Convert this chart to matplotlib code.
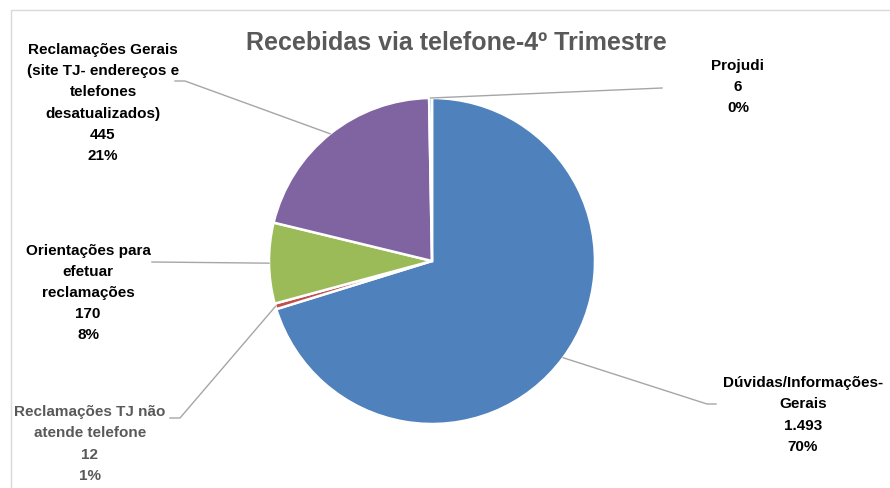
import numpy as np
import matplotlib
matplotlib.use("Agg")
import matplotlib.pyplot as plt
from matplotlib.patches import Rectangle
from matplotlib import font_manager

# ---------------- data ----------------
categories = ['Dúvidas/Informações-\nGerais',
              'Reclamações TJ não\natende telefone',
              'Orientações para\nefetuar\nreclamações',
              'Reclamações Gerais\n(site TJ- endereços e\ntelefones\ndesatualizados)',
              'Projudi']
values = [1493, 12, 170, 445, 6]
value_labels = ['1.493', '12', '170', '445', '6']
colors = ['#4F81BD', '#C0504D', '#9BBB59', '#8064A2', '#4BACC6']
title = 'Recebidas via telefone-4º Trimestre'

# ---------------- layout ----------------
W, H = 890, 489
names = {f.name for f in font_manager.fontManager.ttflist}
fam = [f for f in ['Liberation Sans Narrow', 'Liberation Sans', 'DejaVu Sans'] if f in names]
plt.rcParams['font.family'] = fam

fig = plt.figure(figsize=(W / 100, H / 100), dpi=100)
ax = fig.add_axes([0, 0, 1, 1])

def Y(py):
    return H - py

cx, cy, R = 432, Y(262), 163
wedges, _ = ax.pie(values, colors=colors, startangle=90, counterclock=False,
                   center=(cx, cy), radius=R,
                   wedgeprops=dict(edgecolor='white', linewidth=1.8))
ax.set_aspect('auto')
ax.set_xlim(0, W)
ax.set_ylim(0, H)
ax.axis('off')

# chart frame
ax.add_patch(Rectangle((11, Y(600)), 1000, 589, fill=False, edgecolor='#D9D9D9', lw=1.0))

ax.text(456, Y(43), title, ha='center', va='center', fontsize=18,
        fontweight='bold', color='#595959')

# label positions (block centre) and leader elbows (pixel coords)
label_pos = [(803, 415), (90, 444), (88, 293), (103, 103), (738, 87)]
elbows = [[(707, 405), (716, 405)],
          [(180, 419), (170, 419)],
          [(152, 263)],
          [(185, 82), (175, 82)],
          [(662, 89)]]
text_colors = ['#000000', '#595959', '#000000', '#000000', '#000000']

total = sum(values)
for w, cat, vl, v, (lx, ly), elb, tc in zip(wedges, categories, value_labels, values,
                                             label_pos, elbows, text_colors):
    mid = np.deg2rad((w.theta1 + w.theta2) / 2)
    ex, ey = cx + R * np.cos(mid), cy + R * np.sin(mid)
    xs = [ex] + [p[0] for p in elb]
    ys = [ey] + [Y(p[1]) for p in elb]
    ax.plot(xs, ys, color='#A6A6A6', lw=1.0, zorder=1)
    pct = round(v / total * 100)
    ax.text(lx, Y(ly), f'{cat}\n{vl}\n{pct}%', ha='center', va='center',
            fontsize=11, fontweight='bold', color=tc, linespacing=1.65)

fig.savefig('out.png', dpi=100, facecolor='white')
